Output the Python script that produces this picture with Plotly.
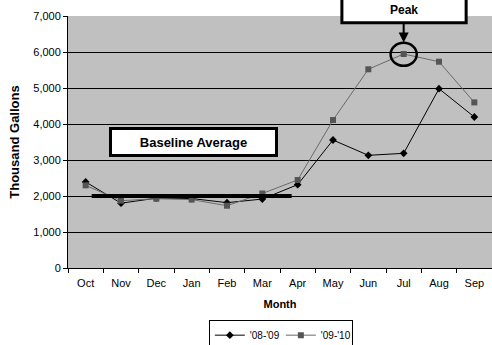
import plotly.graph_objects as go

months = ["Oct", "Nov", "Dec", "Jan", "Feb", "Mar", "Apr", "May", "Jun", "Jul", "Aug", "Sep"]
fy0809 = [2390, 1800, 1940, 1930, 1815, 1915, 2315, 3555, 3130, 3185, 4980, 4195]
fy0910 = [2295, 1870, 1925, 1900, 1730, 2070, 2445, 4110, 5520, 5945, 5730, 4600]
baseline = 2000
peak_month = "Jul"
y_ticks = [0, 1000, 2000, 3000, 4000, 5000, 6000, 7000]

fig = go.Figure()
fig.add_trace(go.Scatter(
    x=months, y=fy0809, name="'08-'09", mode="lines+markers",
    line=dict(color="#000000", width=1),
    marker=dict(symbol="diamond", size=6, color="#000000"),
))
fig.add_trace(go.Scatter(
    x=months, y=fy0910, name="'09-'10", mode="lines+markers",
    line=dict(color="#6a6a6a", width=1),
    marker=dict(symbol="square", size=6, color="#555555"),
))

# baseline average line
fig.add_shape(type="line", xref="x", yref="y", x0=0.17, x1=5.83, y0=baseline, y1=baseline,
              line=dict(color="#000000", width=4))

# peak circle
pk = months.index(peak_month)
pk_val = fy0910[pk]
fig.add_shape(type="circle", xref="x", yref="y", x0=pk - 0.37, x1=pk + 0.37,
              y0=pk_val - 330, y1=pk_val + 310, line=dict(color="#000000", width=2.5))

# Baseline Average box
fig.add_annotation(xref="paper", yref="paper", x=0.296, y=0.5, xanchor="center", yanchor="middle",
                   showarrow=False,
                   text="<b>Baseline Average</b>", font=dict(family="Liberation Sans, Arial", size=13, color="#000"),
                   bgcolor="#ffffff", bordercolor="#000000", borderwidth=3, width=163, height=24, borderpad=0)

# Peak box (top cut off)
fig.add_shape(type="rect", xref="paper", yref="paper", x0=0.646, x1=0.939, y0=0.973, y1=1.12,
              line=dict(color="#000000", width=3), fillcolor="#ffffff", layer="above")
fig.add_annotation(xref="paper", yref="paper", x=0.792, y=1.025, xanchor="center", yanchor="middle",
                   showarrow=False,
                   text="<b>Peak</b>", font=dict(family="Liberation Sans, Arial", size=12, color="#000"))
# arrow
fig.add_annotation(xref="x", yref="y", x=peak_month, y=pk_val + 320, text="", showarrow=True,
                   ax=0, ay=-20, arrowhead=2, arrowsize=1, arrowwidth=2, arrowcolor="#000000")

fig.update_layout(
    width=492, height=345,
    margin=dict(l=68, r=0, t=16, b=77, autoexpand=False),
    paper_bgcolor="#ffffff", plot_bgcolor="#c0c0c0",
    font=dict(family="Liberation Sans, Arial", size=11, color="#000000"),
    showlegend=True,
    legend=dict(orientation="h", x=0.502, xanchor="center", y=-0.205, yanchor="top",
                bordercolor="#000000", borderwidth=1, font=dict(size=10),
                itemwidth=30, entrywidth=26, tracegroupgap=0),
    xaxis=dict(
        title=dict(text="<b>Month</b>", font=dict(size=11), standoff=12),
        categoryorder="array", categoryarray=months, automargin=False,
        showline=True, linecolor="#000000", linewidth=1,
        ticks="outside", tickson="boundaries", ticklen=4, tickcolor="#000000",
        ticklabelstandoff=5,
        showgrid=False, range=[-0.5, 11.5], fixedrange=True,
    ),
    yaxis=dict(
        title=dict(text="<b>Thousand Gallons</b>", font=dict(size=13), standoff=10),
        range=[0, 7000], tickvals=y_ticks, tickformat=",d", automargin=False,
        showline=True, linecolor="#000000", linewidth=1,
        ticks="outside", ticklen=4, tickcolor="#000000",
        showgrid=True, gridcolor="#000000", gridwidth=1, zeroline=False, fixedrange=True,
    ),
)

fig.write_html("out.html", config={"displayModeBar": False, "staticPlot": True},
               post_script="document.body.style.margin='0';document.body.style.overflow='hidden';")
